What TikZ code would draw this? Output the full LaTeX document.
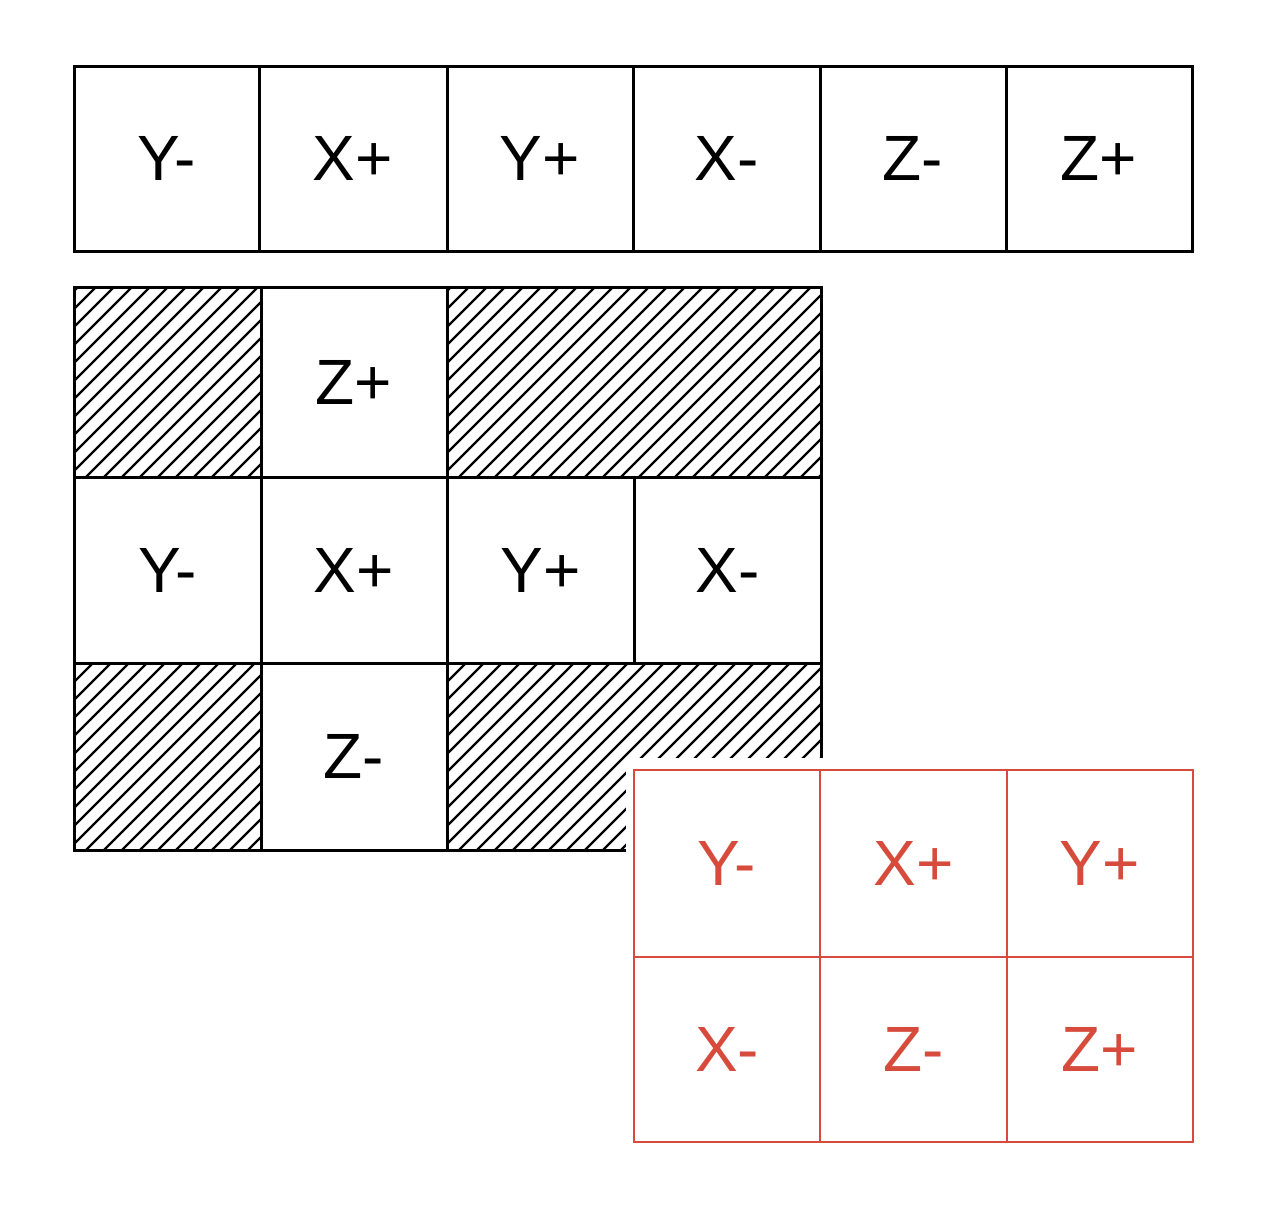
\documentclass[tikz,border=0pt]{standalone}
\usepackage{fontspec}
\setmainfont{Liberation Sans}
\definecolor{redink}{RGB}{215,75,60}
\tikzset{
  cell/.style={draw=black, line width=3pt, inner sep=0pt, font=\fontsize{64}{70}\selectfont},
  redcell/.style={cell, draw=redink, text=redink, line width=2.6pt},
  hatch/.style={line width=2.4pt, black, line cap=round}
}
\newcommand{\hatchbox}[4]{%
  \begin{scope}
    \clip (#1,#2) rectangle (#3,#4);
    \foreach \i in {-420,-402,...,420} {
      \draw[hatch] ({#1+\i},#4) -- ++(500,-500);
    }
  \end{scope}
}
\begin{document}
\begin{tikzpicture}[x=1pt,y=-1pt]
\useasboundingbox[fill=white] (0,0) rectangle (1267,1210);
% top row
\foreach \n/\xa/\xb/\t in {t1/74/259/Y-, t2/259/447/X+, t3/447/633/Y+, t4/633/820/X-, t5/820/1006/Z-, t6/1006/1192/Z+} {
  \node[cell, minimum width={\xb-\xa}, minimum height=185] (\n) at ({(\xa+\xb)/2},158.5) {\t};
}
% hatching
\hatchbox{74}{287}{261}{477}
\hatchbox{447}{287}{821}{477}
\hatchbox{74}{663}{261}{850}
\hatchbox{447}{663}{821}{850}
\draw[line width=3pt] (74,287) rectangle (261,477);
\draw[line width=3pt] (447,287) rectangle (821,477);
\draw[line width=3pt] (74,663) rectangle (261,850);
\draw[line width=3pt] (447,663) rectangle (821,850);
% cross
\node[cell, minimum width=186, minimum height=190] (zp) at (354,382) {Z+};
\foreach \n/\xa/\xb/\t in {m1/74/261/Y-, m2/261/447/X+, m3/447/634/Y+, m4/634/821/X-} {
  \node[cell, minimum width={\xb-\xa}, minimum height=186] (\n) at ({(\xa+\xb)/2},570) {\t};
}
\node[cell, minimum width=186, minimum height=187] (zm) at (354,756.5) {Z-};
% red grid
\fill[white] (626,758) rectangle (1202,1150);
\foreach \n/\xa/\xb/\ya/\yb/\t in {r1/634/820/770/957/Y-, r2/820/1007/770/957/X+, r3/1007/1193/770/957/Y+, r4/634/820/957/1142/X-, r5/820/1007/957/1142/Z-, r6/1007/1193/957/1142/Z+} {
  \node[redcell, minimum width={\xb-\xa}, minimum height={\yb-\ya}] (\n) at ({(\xa+\xb)/2},{(\ya+\yb)/2}) {\t};
}
\end{tikzpicture}
\end{document}
